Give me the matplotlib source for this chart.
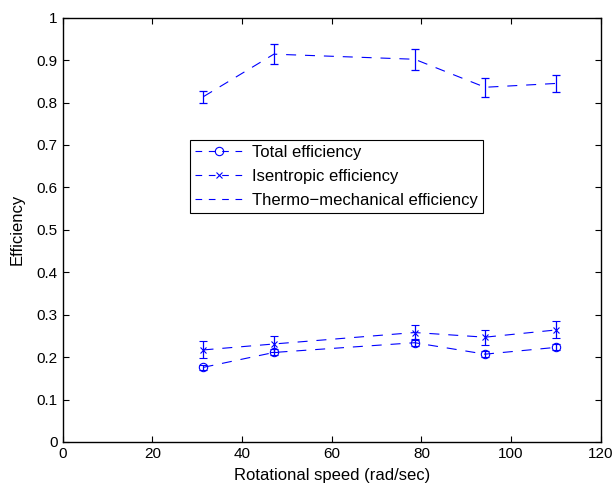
import numpy as np
import matplotlib.pyplot as plt
from matplotlib.lines import Line2D

plt.rcParams['font.family'] = ['Liberation Sans', 'DejaVu Sans']

# rotational speed (rad/sec)
speed = [31.4, 47.1, 78.5, 94.2, 110.0]

total_eff = [0.176, 0.211, 0.234, 0.207, 0.223]
total_err = [0.006, 0.007, 0.008, 0.007, 0.007]

isen_eff = [0.217, 0.231, 0.258, 0.247, 0.264]
isen_err = [0.020, 0.019, 0.018, 0.018, 0.020]

thermo_eff = [0.814, 0.914, 0.902, 0.836, 0.845]
thermo_err = [0.014, 0.024, 0.025, 0.022, 0.020]

blue = '#0000ff'
dash = (0, (9, 8))

fig = plt.figure(figsize=(6.16, 4.83), dpi=100)
ax = fig.add_axes([0.1018, 0.0849, 0.8734, 0.8785])

common = dict(color=blue, ls=dash, lw=0.8, elinewidth=0.9, capsize=2.6, capthick=0.9)
ax.errorbar(speed, total_eff, yerr=total_err, marker='o', ms=6, mfc='none', mec=blue, mew=0.8, **common)
ax.errorbar(speed, isen_eff, yerr=isen_err, marker='x', ms=5, mec=blue, mew=0.8, **common)
ax.errorbar(speed, thermo_eff, yerr=thermo_err, **common)

ax.set_xlim(0, 120)
ax.set_ylim(0, 1)
ax.set_xticks(np.arange(0, 121, 20))
ax.set_yticks(np.arange(0, 1.01, 0.1))
ax.set_yticklabels(['0', '0.1', '0.2', '0.3', '0.4', '0.5', '0.6', '0.7', '0.8', '0.9', '1'])
ax.tick_params(direction='in', top=True, right=True, labelsize=11, length=4, width=0.8)
for s in ax.spines.values():
    s.set_linewidth(1.0)
ax.set_xlabel('Rotational speed (rad/sec)', fontsize=12, labelpad=5)
ax.set_ylabel('Efficiency', fontsize=12, labelpad=9)

handles = [
    Line2D([], [], color=blue, ls=(0, (6, 6)), lw=0.8, marker='o', ms=6, mfc='none', mew=0.8),
    Line2D([], [], color=blue, ls=(0, (6, 6)), lw=0.8, marker='x', ms=5, mew=0.8),
    Line2D([], [], color=blue, ls=(0, (6, 6)), lw=0.8),
]
ax.legend(handles, ['Total efficiency', 'Isentropic efficiency', 'Thermo\u2212mechanical efficiency'],
          loc='upper left', bbox_to_anchor=(0.2366, 0.712), fontsize=12, fancybox=False,
          edgecolor='black', framealpha=1, borderpad=0.3, labelspacing=0.55,
          handlelength=2.9, handletextpad=0.5, borderaxespad=0).get_frame().set_linewidth(0.8)

fig.savefig('out.png', dpi=100)
